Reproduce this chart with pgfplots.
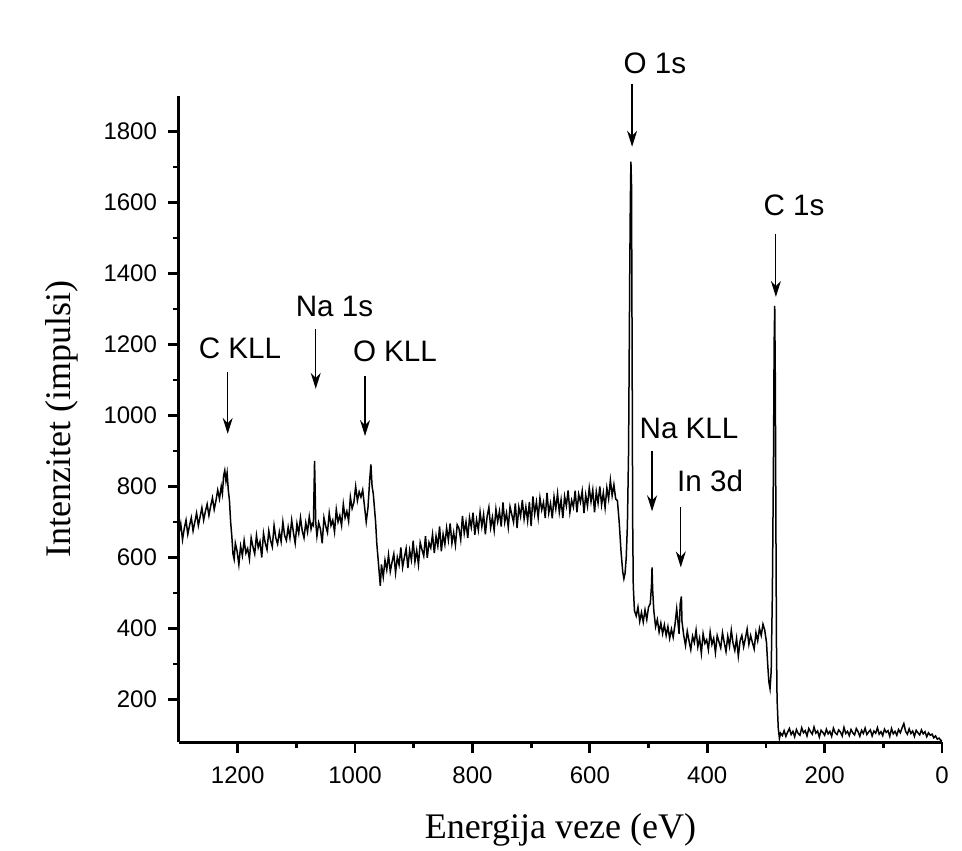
\documentclass[border=0pt]{standalone}
\usepackage{fontspec}
\setmainfont{Liberation Sans}
\newfontfamily\timesfont{Liberation Serif}
\usepackage{pgfplots}
\pgfplotsset{compat=1.18}
\usetikzlibrary{arrows.meta}

% XPS survey spectrum
\pgfplotstableread{
x y
1300 668
1297 695
1294 650
1291 682
1288 705
1285 665
1282 690
1279 712
1276 675
1273 700
1270 725
1267 690
1264 715
1261 740
1258 705
1255 730
1252 750
1249 718
1246 745
1243 768
1240 735
1237 760
1234 790
1231 765
1228 800
1226 780
1224 830
1222 845
1220 815
1218 838
1216 790
1214 760
1212 700
1210 660
1208 610
1206 595
1204 640
1201 618
1198 580
1195 632
1192 605
1189 648
1186 612
1183 625
1180 595
1177 655
1174 630
1171 610
1168 662
1165 628
1162 645
1159 600
1156 668
1153 640
1150 622
1147 675
1144 648
1141 630
1138 690
1135 655
1132 638
1129 672
1126 645
1123 700
1120 662
1117 648
1114 685
1111 655
1108 705
1105 670
1102 640
1099 695
1096 668
1093 712
1090 675
1087 655
1084 698
1081 672
1078 715
1075 680
1073 695
1071 690
1069 872
1067 700
1065 660
1062 698
1059 680
1056 640
1053 712
1050 688
1047 670
1044 725
1041 690
1038 705
1035 672
1032 735
1029 700
1026 718
1023 690
1020 750
1017 712
1014 730
1011 702
1008 770
1005 738
1002 755
999 800
996 760
993 785
990 770
987 790
984 745
981 700
978 740
975 820
973 862
971 800
969 780
967 740
965 700
963 640
961 600
959 560
957 520
955 580
952 545
949 592
946 565
943 607
940 560
937 587
934 610
931 557
928 600
925 579
922 628
919 572
916 600
913 625
910 570
907 620
904 593
901 647
898 588
895 620
892 580
889 642
886 622
883 604
880 660
877 599
874 642
871 627
868 665
865 612
862 660
859 632
856 687
853 617
850 665
847 637
844 683
841 649
838 696
835 640
832 670
829 635
826 692
823 682
820 650
817 717
814 668
811 700
808 655
805 712
802 685
799 726
796 664
793 706
790 677
787 728
784 687
781 721
778 665
775 716
772 741
769 684
766 713
763 676
760 736
757 701
754 730
751 687
748 755
745 699
742 725
739 685
736 743
733 721
730 699
727 752
724 683
721 742
718 716
715 762
712 708
709 742
706 703
703 756
700 688
697 772
694 723
691 756
688 712
685 768
682 734
679 755
676 711
673 782
670 725
667 752
664 710
661 771
658 737
655 780
652 727
649 762
646 711
643 772
640 745
637 789
634 727
631 761
628 742
625 788
622 727
619 778
616 756
613 787
610 725
607 776
604 745
601 796
598 757
595 790
592 727
589 785
586 753
583 800
580 748
577 782
574 740
571 796
568 765
565 818
562 774
559 805
556 765
553 760
550 700
547 620
544 560
542 540
540 555
538 600
536 690
534 900
532 1400
531 1600
530 1715
529 1650
528 1200
527 700
526 520
524 450
521 435
518 460
515 420
512 445
509 418
506 452
503 425
500 460
497 470
495 520
494 572
493 510
491 450
488 405
485 425
482 390
479 415
476 385
473 410
470 380
467 405
464 372
461 398
458 375
455 410
452 455
450 420
448 385
446 470
444 490
443 420
440 380
437 352
434 392
431 365
428 340
425 378
422 360
419 395
416 348
413 372
410 330
407 385
404 358
401 368
398 340
395 390
392 355
389 372
386 332
383 380
380 362
377 345
374 388
371 360
368 335
365 378
362 350
359 395
356 358
353 338
350 372
347 322
344 365
341 380
338 348
335 372
332 398
329 355
326 380
323 360
320 342
317 388
314 365
311 400
308 380
305 412
302 395
299 360
297 300
295 250
293 230
291 280
289 500
287 900
286 1200
285 1309
284 1100
283 700
282 350
281 200
279 120
277 90
275 105
272 98
269 112
266 96
263 108
260 118
257 101
254 110
251 95
248 115
245 104
242 99
239 120
236 106
233 112
230 97
227 118
224 109
221 102
218 122
215 105
212 111
209 94
206 113
203 107
200 99
197 116
194 103
191 110
188 96
185 119
182 106
179 101
176 114
173 108
170 97
167 121
164 104
161 110
158 98
155 115
152 106
149 100
146 118
143 109
140 96
137 113
134 104
131 119
128 101
125 108
122 114
119 97
116 111
113 105
110 120
107 102
104 109
101 98
98 116
95 107
92 112
89 96
86 118
83 103
80 110
77 99
74 115
71 106
68 120
65 132
62 110
59 102
56 117
53 104
50 111
47 96
44 113
41 106
38 100
35 114
32 103
29 109
26 95
23 106
20 99
17 102
14 92
11 97
8 88
5 91
2 84
0 85
}\spectrum

\begin{document}
\begin{tikzpicture}
\useasboundingbox (-89.5pt,-54pt) rectangle (391.5pt,371pt);
\begin{axis}[
    at={(0,0)}, anchor=south west,
    scale only axis,
    width=381.5pt, height=323pt,
    x dir=reverse,
    xmin=0, xmax=1300,
    ymin=80, ymax=1900,
    xtick={0,200,400,600,800,1000,1200},
    ytick={200,400,600,800,1000,1200,1400,1600,1800},
    minor x tick num=1,
    minor y tick num=1,
    axis x line*=bottom,
    axis y line*=left,
    axis line style={line width=1.5pt, -},
    major tick style={line width=1.4pt, black},
    minor tick style={line width=1.4pt, black},
    tick align=outside,
    major tick length=5.5pt,
    minor tick length=3pt,
    xticklabel={\fontsize{12}{14}\selectfont\pgfmathprintnumber[assume math mode=true,1000 sep={}]{\tick}},
    yticklabel={\fontsize{12}{14}\selectfont\pgfmathprintnumber[assume math mode=true,1000 sep={}]{\tick}},
    xticklabel style={yshift=-3.5pt},
    yticklabel style={xshift=-2pt},
    xlabel={\timesfont Energija veze (eV)},
    ylabel={\timesfont Intenzitet (impulsi)},
    label style={font=\fontsize{18}{21}\selectfont},
    xlabel style={at={(axis description cs:0.5,-0.136)}, anchor=center},
    ylabel style={at={(axis description cs:-0.153,0.5)}, anchor=center},
    clip=false,
]
\addplot[black, line width=0.75pt] table[x=x, y=y] {\spectrum};

\tikzset{lbl/.style={font=\fontsize{14.8}{17}\selectfont, anchor=center},
         arr/.style={line width=0.6pt, -{Stealth[length=8pt, width=5pt]}}}
\node[lbl] at (axis cs:1196,1188) {C KLL};
\draw[arr] (axis cs:1217,1123) -- (axis cs:1217,948);
\node[lbl] at (axis cs:1035,1306) {Na 1s};
\draw[arr] (axis cs:1067,1244) -- (axis cs:1067,1075);
\node[lbl] at (axis cs:932,1182) {O KLL};
\draw[arr] (axis cs:983,1111) -- (axis cs:983,942);
\node[lbl] at (axis cs:489,1992) {O 1s};
\draw[arr] (axis cs:528,1935) -- (axis cs:528,1757);
\node[lbl] at (axis cs:252,1591) {C 1s};
\draw[arr] (axis cs:283,1512) -- (axis cs:283,1334);
\node[lbl] at (axis cs:431,962) {Na KLL};
\draw[arr] (axis cs:494,900) -- (axis cs:494,730);
\node[lbl] at (axis cs:395,815) {In 3d};
\draw[arr] (axis cs:445,742) -- (axis cs:445,572);
\end{axis}
\end{tikzpicture}
\end{document}
